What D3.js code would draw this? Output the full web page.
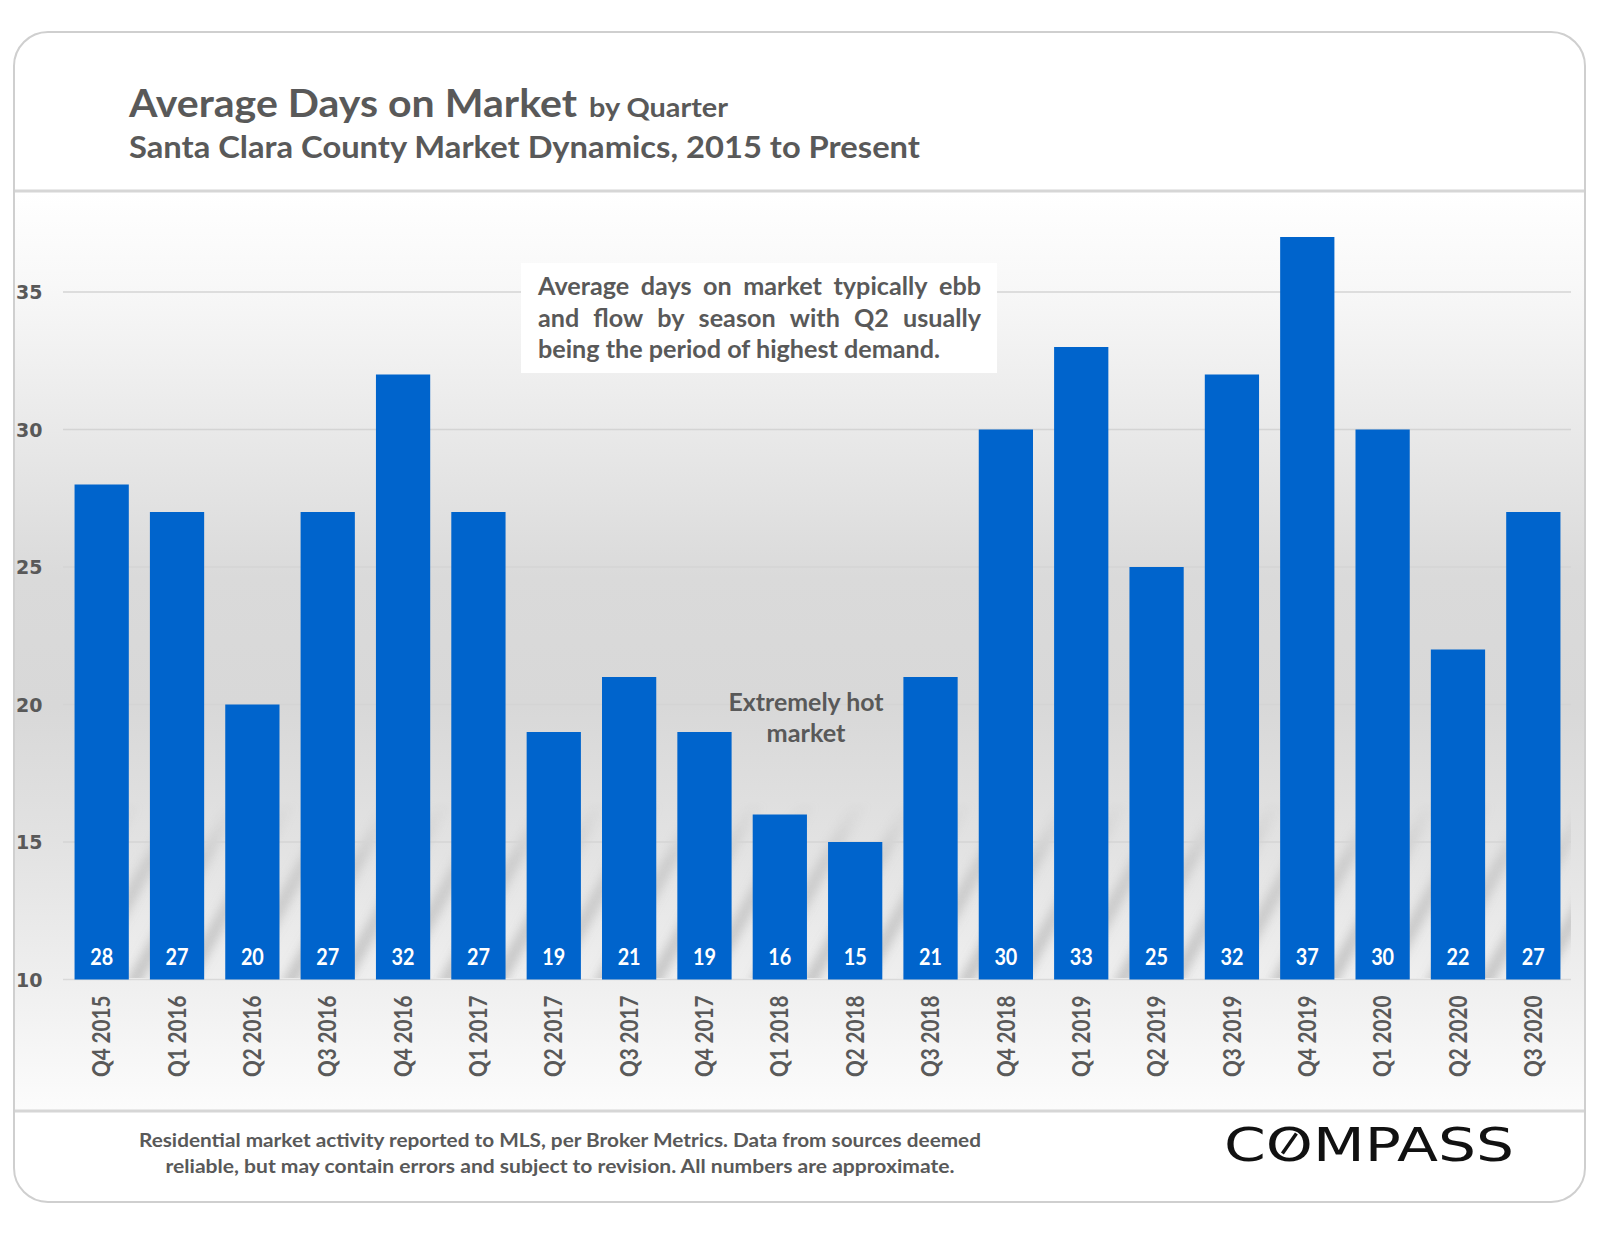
<!DOCTYPE html>
<html>
<head>
<meta charset="utf-8">
<script src="https://cdn.jsdelivr.net/npm/d3@7"></script>
<style>
  html, body { margin: 0; padding: 0; background: #ffffff; }
  svg { display: block; }
</style>
</head>
<body>
<svg id="chart" width="1600" height="1236"></svg>
<script>
// ---------------- DATA ----------------
const quarters = ["Q4 2015","Q1 2016","Q2 2016","Q3 2016","Q4 2016","Q1 2017","Q2 2017","Q3 2017","Q4 2017",
                  "Q1 2018","Q2 2018","Q3 2018","Q4 2018","Q1 2019","Q2 2019","Q3 2019","Q4 2019","Q1 2020","Q2 2020","Q3 2020"];
const avgDays = [28,27,20,27,32,27,19,21,19,16,15,21,30,33,25,32,37,30,22,27];
const yTicks = [10,15,20,25,30,35];
const titleMain = "Average Days on Market";
const titleSuffix = "by Quarter";
const subtitle = "Santa Clara County Market Dynamics, 2015 to Present";
const noteLines = ["Average days on market typically ebb",
                   "and flow by season with Q2 usually",
                   "being the period of highest demand."];
const hotLines = ["Extremely hot", "market"];
const footerLines = ["Residential market activity reported to MLS, per Broker Metrics. Data from sources deemed",
                     "reliable, but may contain errors and subject to revision. All numbers are approximate."];
const logoText = "COMPASS";

// ---------------- SETUP ----------------
const svg = d3.select("#chart");
const FONT = "Lato, 'Open Sans', sans-serif";
const GREY = "#595959";
const BLUE = "#0064CC";

function fit(sel, w) {
  sel.attr("textLength", w).attr("lengthAdjust", "spacingAndGlyphs");
  return sel;
}

const defs = svg.append("defs");
const bg = defs.append("linearGradient").attr("id","bgGrad")
  .attr("x1",0).attr("y1",0).attr("x2",0).attr("y2",1);
[[0,"#ffffff"],[0.10,"#f8f8f8"],[0.26,"#e9e9e9"],[0.42,"#dadada"],[0.56,"#d8d8d8"],
 [0.72,"#e3e3e3"],[0.86,"#efefef"],[1,"#fcfcfc"]].forEach(([o,c]) =>
  bg.append("stop").attr("offset",o).attr("stop-color",c));

defs.append("clipPath").attr("id","cardClip")
  .append("rect").attr("x",14).attr("y",32).attr("width",1571).attr("height",1170).attr("rx",34);

const blur = defs.append("filter").attr("id","blur").attr("x","-20%").attr("y","-20%").attr("width","140%").attr("height","140%");
blur.append("feGaussianBlur").attr("stdDeviation",5);

const fade = defs.append("linearGradient").attr("id","fadeGrad").attr("x1",0).attr("y1",0).attr("x2",0).attr("y2",1);
[[0,"#fff",0],[0.35,"#fff",0.6],[1,"#fff",0.9]].forEach(([o,c,a]) =>
  fade.append("stop").attr("offset",o).attr("stop-color",c).attr("stop-opacity",a));
defs.append("mask").attr("id","fadeMask").attr("maskUnits","userSpaceOnUse")
  .append("rect").attr("x",120).attr("y",800).attr("width",1451).attr("height",178).attr("fill","url(#fadeGrad)");

// ---------------- CARD ----------------
const card = svg.append("g").attr("clip-path","url(#cardClip)");
card.append("rect").attr("x",14).attr("y",32).attr("width",1571).attr("height",1170).attr("fill","#ffffff");
card.append("rect").attr("x",14).attr("y",192).attr("width",1571).attr("height",918).attr("fill","url(#bgGrad)");

// header / footer separators
svg.append("line").attr("x1",14).attr("x2",1585).attr("y1",191).attr("y2",191).attr("stroke","#d6d6d6").attr("stroke-width",3);
svg.append("line").attr("x1",14).attr("x2",1585).attr("y1",1111).attr("y2",1111).attr("stroke","#d6d6d6").attr("stroke-width",3);

// card border
svg.append("rect").attr("x",14).attr("y",32).attr("width",1571).attr("height",1170).attr("rx",34)
  .attr("fill","none").attr("stroke","#cfcfcf").attr("stroke-width",2);

// ---------------- SCALES ----------------
const x = d3.scaleBand().domain(quarters).range([64, 1571]).paddingInner(0.28).paddingOuter(0.14);
const y = d3.scaleLinear().domain([10, 37.5]).range([979.5, 979.5 - 27.5*27.5]);

// reflection stripes (decorative) near the bottom
const stripes = card.append("g").attr("mask","url(#fadeMask)").attr("filter","url(#blur)");
d3.range(-6, 40).forEach(i => {
  const x0 = 20 + i*52;
  stripes.append("path")
    .attr("d", `M${x0},985 L${x0+16},985 L${x0+120},800 L${x0+104},800 Z`)
    .attr("fill","#9a9a9a").attr("opacity",0.5);
});

// gridlines
const grid = svg.append("g");
grid.selectAll("line").data(yTicks.filter(t => t > 10)).join("line")
  .attr("x1",63).attr("x2",1571)
  .attr("y1",d => y(d)).attr("y2",d => y(d))
  .attr("stroke","#d4d4d4").attr("stroke-width",1.5);

// baseline
svg.append("line").attr("x1",63).attr("x2",1571).attr("y1",y(10)).attr("y2",y(10))
  .attr("stroke","#d9d9d9").attr("stroke-width",1.5);

// y axis labels
const yAxis = d3.axisLeft(y).tickValues(yTicks).tickSize(0).tickPadding(0);
const yG = svg.append("g").attr("transform","translate(16,0)").call(yAxis);
yG.select(".domain").remove();
yG.selectAll("text")
  .attr("text-anchor","start").attr("x",0).attr("dy","0.36em")
  .attr("font-family","'DejaVu Sans', Verdana, sans-serif").attr("font-weight","bold")
  .attr("font-size",19).attr("fill",GREY);

// annotation box
svg.append("rect").attr("x",521).attr("y",263).attr("width",476).attr("height",110).attr("fill","#ffffff");

// bars
svg.append("g").selectAll("rect").data(quarters).join("rect")
  .attr("x",d => x(d)).attr("width",x.bandwidth())
  .attr("y",(d,i) => y(avgDays[i])).attr("height",(d,i) => y(10) - y(avgDays[i]))
  .attr("fill",BLUE);

// value labels
svg.append("g").selectAll("text").data(quarters).join("text")
  .attr("x",d => x(d) + x.bandwidth()/2).attr("y",965)
  .attr("text-anchor","middle").attr("font-family",FONT).attr("font-weight",700)
  .attr("font-size",22).attr("fill","#ffffff")
  .text((d,i) => avgDays[i])
  .each(function(){ const w = this.getComputedTextLength(); d3.select(this).call(fit, w*0.9); });

// x axis labels
const xAxis = d3.axisBottom(x).tickSize(0).tickPadding(0);
const xG = svg.append("g").attr("transform",`translate(0,${y(10)})`).call(xAxis);
xG.select(".domain").remove();
xG.selectAll("text")
  .attr("transform","rotate(-90)")
  .attr("text-anchor","end").attr("x",-16).attr("y",0).attr("dy","0.36em")
  .attr("font-family",FONT).attr("font-weight",700).attr("font-size",24).attr("fill",GREY)
  .each(function(){ const w = this.getComputedTextLength(); d3.select(this).call(fit, w*0.86); });

// ---------------- TITLES ----------------
svg.append("text").attr("x",129).attr("y",117).attr("font-family",FONT).attr("font-weight",700)
  .attr("font-size",39).attr("fill",GREY).text(titleMain).call(fit, 448);
svg.append("text").attr("x",589).attr("y",117).attr("font-family",FONT).attr("font-weight",700)
  .attr("font-size",26).attr("fill",GREY).text(titleSuffix).call(fit, 139);
svg.append("text").attr("x",129).attr("y",158).attr("font-family",FONT).attr("font-weight",700)
  .attr("font-size",31).attr("fill",GREY).text(subtitle).call(fit, 791);

// ---------------- NOTE (justified) ----------------
const noteG = svg.append("g").attr("font-family",FONT).attr("font-weight",700)
  .attr("font-size",24).attr("fill",GREY);
const noteX0 = 538, noteX1 = 981, noteBase = [295, 326.5, 358];
// horizontal factor derived from last (unjustified) line's known width
const probe = noteG.append("text").attr("x",noteX0).attr("y",noteBase[2]).text(noteLines[2]);
const kNote = 402 / probe.node().getComputedTextLength();
probe.call(fit, 402);
noteLines.slice(0,2).forEach((line, li) => {
  const words = line.split(" ");
  const nodes = words.map(w => noteG.append("text").attr("y",noteBase[li]).text(w));
  const widths = nodes.map(n => n.node().getComputedTextLength()*kNote);
  nodes.forEach((n,i) => n.call(fit, widths[i]));
  const gap = (noteX1 - noteX0 - d3.sum(widths)) / (words.length - 1);
  let cx = noteX0;
  nodes.forEach((n,i) => { n.attr("x",cx); cx += widths[i] + gap; });
});

// "Extremely hot market"
const hotW = [155, 79];
svg.append("g").selectAll("text").data(hotLines).join("text")
  .attr("x",806).attr("y",(d,i) => 711 + i*31)
  .attr("text-anchor","middle").attr("font-family",FONT).attr("font-weight",700)
  .attr("font-size",24).attr("fill",GREY).text(d => d)
  .each(function(d,i){ d3.select(this).call(fit, hotW[i]); });

// ---------------- FOOTER ----------------
const footW = [842, 789];
svg.append("g").selectAll("text").data(footerLines).join("text")
  .attr("x",560).attr("y",(d,i) => 1147 + i*26)
  .attr("text-anchor","middle").attr("font-family",FONT).attr("font-weight",700)
  .attr("font-size",18).attr("fill",GREY).text(d => d)
  .each(function(d,i){ d3.select(this).call(fit, footW[i]); });

// ---------------- LOGO ----------------
const logo = svg.append("text").attr("x",1224).attr("y",1161)
  .attr("font-family","'DejaVu Sans', sans-serif").attr("font-weight",400)
  .attr("font-size",47).attr("fill","#111111").text(logoText).call(fit, 290);
try {
  const ext = logo.node().getExtentOfChar(1);
  const cxO = ext.x + ext.width/2, cyO = 1143.5;
  svg.append("line")
    .attr("x1",cxO - 7).attr("y1",cyO + 10).attr("x2",cxO + 7).attr("y2",cyO - 10)
    .attr("stroke","#111111").attr("stroke-width",3.5);
} catch(e) {}
</script>
</body>
</html>
